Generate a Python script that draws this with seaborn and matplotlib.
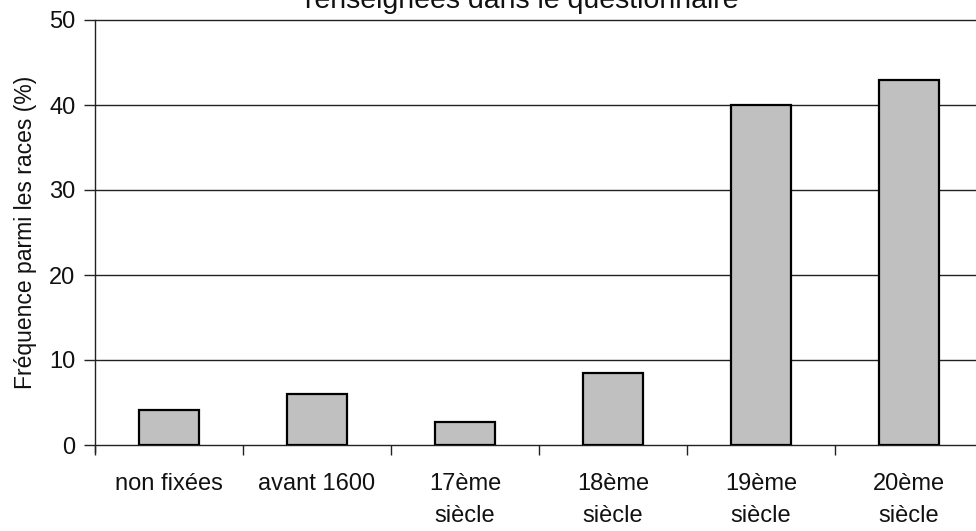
import matplotlib
matplotlib.use("Agg")
import matplotlib.pyplot as plt
import seaborn as sns
import pandas as pd
import numpy as np

categories = ["non fixées", "avant 1600", "17ème\nsiècle", "18ème\nsiècle", "19ème\nsiècle", "20ème\nsiècle"]
values = [4.1, 6.0, 2.7, 8.5, 40.0, 42.9]
yticks = [0, 10, 20, 30, 40, 50]
title_text = "renseignées dans le questionnaire"
ylabel_text = "Fréquence parmi les races (%)"

sns.set_theme(style="white")
plt.rcParams['font.family'] = ['Liberation Sans', 'DejaVu Sans']

df = pd.DataFrame({"cat": categories, "val": values})

fig = plt.figure(figsize=(9.76, 5.31), dpi=100)
ax = fig.add_axes([95/976, 1-445/531, 6*148/976, 425/531])

sns.barplot(data=df, x="cat", y="val", color="#c0c0c0", saturation=1,
            edgecolor="black", linewidth=1.6, width=0.41, ax=ax, zorder=3)

ax.set_xlim(-0.5, 5.5)
ax.set_ylim(0, 50)
ax.set_yticks(yticks)
ax.set_yticklabels([str(t) for t in yticks], fontsize=17)
for t in yticks:
    ax.axhline(t, color="#222222", linewidth=1.0, zorder=1, clip_on=False)

ax.tick_params(axis="y", which="major", length=8, width=1.0, color="#222222",
               direction="out", left=True, pad=6, labelcolor="#111111")
ax.tick_params(axis="x", which="major", length=0, pad=20, labelsize=17, labelcolor="#111111")
ax.set_xticks(np.arange(-0.5, 5.6, 1.0), minor=True)
ax.tick_params(axis="x", which="minor", length=7, width=1.0, color="#222222",
               direction="out", bottom=True)
for lbl in ax.get_xticklabels():
    lbl.set_linespacing(1.58)
    lbl.set_verticalalignment("top")

ax.set_xlabel("")
ax.set_ylabel(ylabel_text, fontsize=16.5, labelpad=9, color="#111111")

for s in ["top", "right", "bottom"]:
    ax.spines[s].set_visible(False)
ax.spines["left"].set_color("#222222")
ax.spines["left"].set_linewidth(1.0)
ax.spines["left"].set_bounds(-0.8, 50)

fig.text(522/976, 1-8/531, title_text, ha="center", va="baseline", fontsize=20.5, color="#111111")

fig.savefig("out.png", dpi=100)
